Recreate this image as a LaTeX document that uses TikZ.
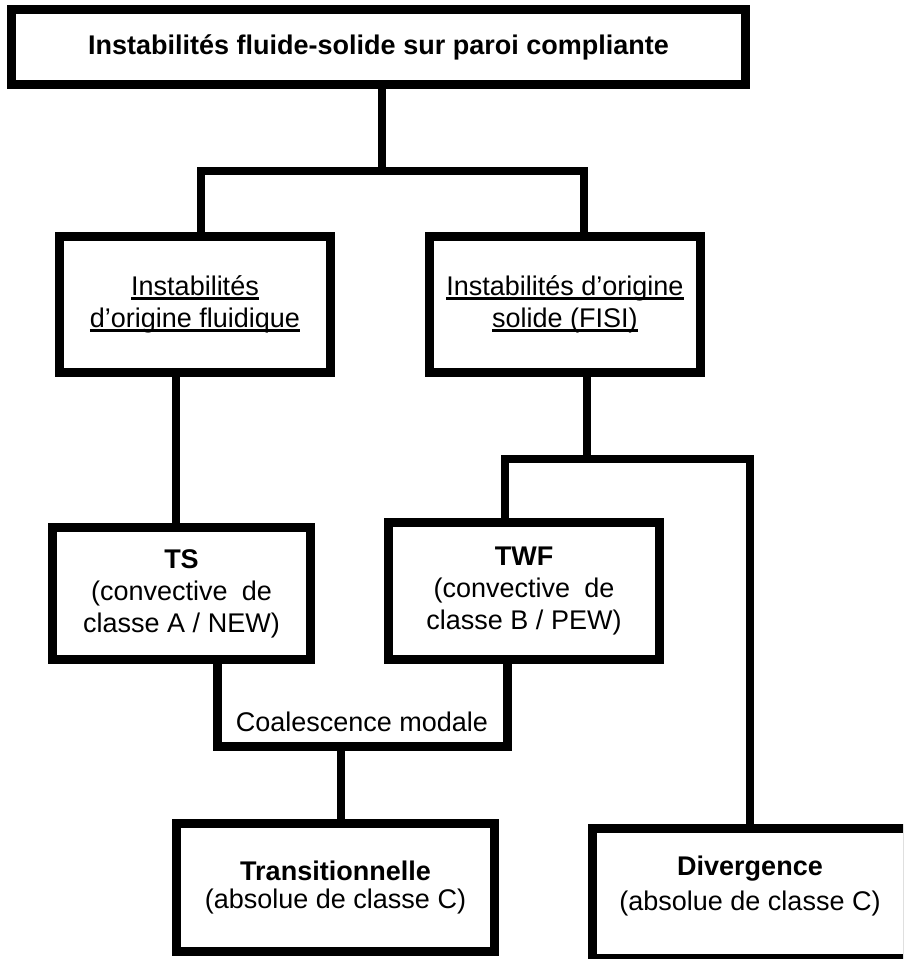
\documentclass[tikz,border=0pt]{standalone}
\usepackage{fontspec}
\setmainfont{Liberation Sans}
\newsavebox{\myulbox}
\newcommand{\myul}[1]{\sbox{\myulbox}{#1}\rlap{\rule[-4.2pt]{\wd\myulbox}{2.4pt}}\usebox{\myulbox}}
\tikzset{
  box/.style={draw, line width=9pt, fill=white, inner sep=0pt, align=center,
    font=\fontsize{27}{32}\selectfont},
  plain/.style={inner sep=0pt, align=center, font=\fontsize{27}{32}\selectfont},
  conn/.style={line width=8pt, line join=miter, line cap=rect},
}
\begin{document}
\begin{tikzpicture}[x=1pt, y=-1pt]
\useasboundingbox (0,0) rectangle (903,959);
\clip (0,0) rectangle (903,959);
\fill[white] (0,0) rectangle (903,959);
% nodes
\node[box, minimum width=734pt, minimum height=75pt] (top) at (378.5,47)
  {\bfseries Instabilités fluide-solide sur paroi compliante};
\node[box, minimum width=271pt, minimum height=136pt] (f) at (195,304.5)
  {\myul{Instabilités}\\\myul{d’origine fluidique}};
\node[box, minimum width=271pt, minimum height=136pt] (s) at (565,304.5)
  {\myul{Instabilités d’origine}\\\myul{solide (FISI)}};
\node[box, minimum width=258pt, minimum height=132pt] (ts) at (181.5,593.5)
  {\textbf{TS}\\(convective\hspace{0.25em} de\\classe A / NEW)};
\node[box, minimum width=271pt, minimum height=137pt] (twf) at (524,591)
  {\textbf{TWF}\\(convective\hspace{0.25em} de\\classe B / PEW)};
\node[box, minimum width=318pt, minimum height=128pt] (tr) at (335.5,887.5)
  {\textbf{Transitionnelle}\\[-4pt](absolue de classe C)};
\node[box, minimum width=315pt, minimum height=130pt] (div) at (750,893.5) {};
\node[plain] (divtxt) at (750,886)
  {\textbf{Divergence}\\[3pt](absolue de classe C)};
\node[plain] (coal) at (362,722) {Coalescence modale};
% connectors
\coordinate (j1) at (382,171);
\coordinate (jl) at (201,171);
\coordinate (jr) at (584,171);
\draw[conn] (top.south -| j1) -- (j1);
\draw[conn] (f.north -| jl) -- (jl) -- (jr) -- (s.north -| jr);
\coordinate (k1) at (176,0);
\draw[conn] (f.south -| k1) -- (ts.north -| k1);
\coordinate (j2) at (587,459);
\coordinate (j2l) at (505,459);
\coordinate (j2r) at (750,459);
\draw[conn] (s.south -| j2) -- (j2);
\draw[conn] (twf.north -| j2l) -- (j2l) -- (j2r) -- (div.north -| j2r);
\coordinate (cl) at (217,746.5);
\coordinate (cr) at (507,746.5);
\draw[conn, line width=9pt] (ts.south -| cl) -- (cl) -- (cr) -- (twf.south -| cr);
\coordinate (cm) at (341,746.5);
\draw[conn] (cm) -- (tr.north -| cm);
\end{tikzpicture}
\end{document}
